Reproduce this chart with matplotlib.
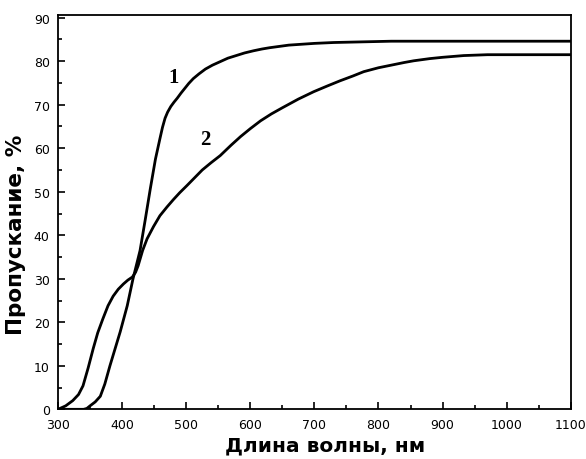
import matplotlib
matplotlib.use("Agg")
import matplotlib.pyplot as plt
from matplotlib.ticker import MultipleLocator

# curve 1
wl1 = [300, 340, 345, 350, 358, 366, 373, 381, 389, 397, 408, 417, 428, 436, 444,
       452, 459, 463, 467, 471, 476, 481, 486, 492, 498, 504, 511, 520, 530, 541,
       553, 565, 578, 591, 605, 618, 630, 645, 660, 680, 700, 730, 760, 820, 1100]
t1 = [0, 0, 0.2, 0.8, 1.7, 3, 5.8, 10, 13.9, 17.8, 23.8, 30, 36.5, 43.5, 50.7,
      57.5, 62.2, 64.8, 66.9, 68.3, 69.6, 70.6, 71.5, 72.7, 73.8, 74.9, 76, 77.1, 78.2, 79.1,
      79.9, 80.7, 81.3, 81.9, 82.4, 82.8, 83.1, 83.4, 83.7, 83.9, 84.1, 84.3, 84.4, 84.6, 84.6]

# curve 2
wl2 = [300, 312, 323, 332, 339, 347, 355, 362, 370, 378, 386, 394, 402, 409, 416,
       421, 425, 432, 439, 449, 459, 470, 480, 490, 501, 513, 525, 539, 553, 570,
       585, 600, 616, 633, 650, 675, 699, 720, 740, 760, 777, 800, 820, 840, 855,
       880, 900, 933, 970, 1000, 1100]
t2 = [0, 0.8, 2, 3.4, 5.4, 9.5, 14, 17.6, 20.8, 23.8, 26, 27.6, 28.8, 29.7, 30.4,
      31.5, 33, 36.5, 39.2, 42, 44.5, 46.5, 48.2, 49.8, 51.4, 53.2, 55, 56.7, 58.3, 60.7,
      62.7, 64.5, 66.3, 67.9, 69.3, 71.3, 73, 74.3, 75.5, 76.6, 77.6, 78.5, 79.1, 79.7, 80.1,
      80.6, 80.9, 81.3, 81.5, 81.5, 81.5]

xticks = [300, 400, 500, 600, 700, 800, 900, 1000, 1100]
yticks = [0, 10, 20, 30, 40, 50, 60, 70, 80, 90]

fig = plt.figure(figsize=(5.86, 4.6), dpi=100)
ax = fig.add_axes([0.099, 0.108, 0.875, 0.857])

ax.plot(wl1, t1, color="black", lw=2.0)
ax.plot(wl2, t2, color="black", lw=2.0)

ax.set_xlim(300, 1100)
ax.set_ylim(0, 90.6)
ax.set_xticks(xticks)
ax.set_yticks(yticks)
ax.xaxis.set_minor_locator(MultipleLocator(50))
ax.yaxis.set_minor_locator(MultipleLocator(5))
ax.tick_params(which="both", direction="in", top=False, right=False, width=1.2)
ax.tick_params(which="major", length=5, labelsize=9, pad=6)
ax.tick_params(which="minor", length=3)
for lab in ax.get_xticklabels() + ax.get_yticklabels():
    lab.set_family(["Liberation Sans Narrow", "DejaVu Sans"])
for s in ax.spines.values():
    s.set_linewidth(1.3)

ax.set_xlabel("Длина волны, нм", fontsize=14.5, fontweight="bold")
ax.set_ylabel("Пропускание, %", fontsize=15.5, fontweight="bold")
ax.xaxis.set_label_coords(0.52, -0.066)
ax.yaxis.set_label_coords(-0.062, 0.445)

ax.text(480, 76.4, "1", fontsize=15, fontweight="bold", family="Liberation Serif",
        ha="center", va="center")
ax.text(530, 62.2, "2", fontsize=15, fontweight="bold", family="Liberation Serif",
        ha="center", va="center")

fig.savefig("out.png", dpi=100)
